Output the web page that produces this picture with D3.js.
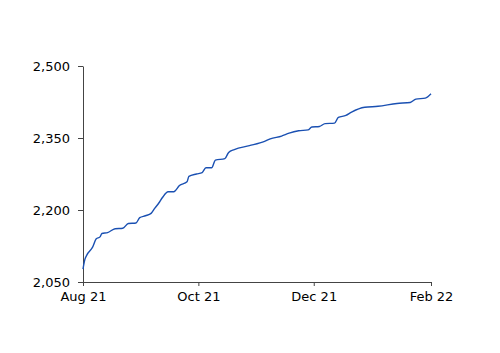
<!DOCTYPE html>
<html lang="en">
<head>
    <meta charset="UTF-8">
    <title>Cumulative line</title>
    <style>
        html, body { margin: 0; padding: 0; background: #fff; }
        text { font-family: "DejaVu Sans", Verdana, sans-serif; font-size: 13px; fill: #000; }
        .domain, .tick line { stroke: #444; }
    </style>
</head>
<body>
    <div id="wrapper"></div>
    <script src="https://cdn.jsdelivr.net/npm/d3@7"></script>
    <script>
        // data
        const dates = ['2021-08-01', '2021-08-02', '2021-08-03', '2021-08-06', '2021-08-08', '2021-08-10',
            '2021-08-11', '2021-08-14', '2021-08-18', '2021-08-22', '2021-08-25', '2021-08-29', '2021-08-31',
            '2021-09-03', '2021-09-06', '2021-09-08', '2021-09-10', '2021-09-12', '2021-09-15', '2021-09-18',
            '2021-09-21', '2021-09-25', '2021-09-26', '2021-09-30', '2021-10-03', '2021-10-05', '2021-10-08',
            '2021-10-10', '2021-10-15', '2021-10-17', '2021-10-20', '2021-10-28', '2021-11-05', '2021-11-08',
            '2021-11-14', '2021-11-18', '2021-11-23', '2021-11-28', '2021-11-30', '2021-12-04', '2021-12-07',
            '2021-12-12', '2021-12-14', '2021-12-18', '2021-12-21', '2021-12-28', '2022-01-04', '2022-01-14',
            '2022-01-21', '2022-01-24', '2022-01-29', '2022-02-01'];
        const values = [2077, 2097, 2106, 2122, 2140, 2144,
            2151, 2153, 2161, 2162, 2172, 2173, 2184,
            2188, 2193, 2204, 2214, 2226, 2238, 2238,
            2251, 2259, 2270, 2275, 2278, 2288, 2288,
            2304, 2307, 2320, 2326, 2334, 2343, 2348,
            2354, 2360, 2365, 2367, 2373, 2374, 2380,
            2381, 2393, 2397, 2404, 2414, 2416, 2422,
            2424, 2431, 2433, 2442];
        const yTicks = [2050, 2200, 2350, 2500];
        const xTicks = ['2021-08-01', '2021-10-01', '2021-12-01', '2022-02-01'];

        const width = 500, height = 353;
        const margin = { top: 66, right: 69, bottom: 71, left: 83 };

        const parseDate = d3.timeParse('%Y-%m-%d');
        const data = dates.map((d, i) => ({ date: parseDate(d), value: values[i] }));

        const svg = d3.select('#wrapper').append('svg')
            .attr('width', width)
            .attr('height', height);

        const x = d3.scaleTime()
            .domain([parseDate(xTicks[0]), parseDate(xTicks[xTicks.length - 1])])
            .range([margin.left, width - margin.right]);

        const y = d3.scaleLinear()
            .domain([2050, 2500])
            .range([height - margin.bottom, margin.top]);

        // x axis
        svg.append('g')
            .attr('transform', `translate(0,${height - margin.bottom})`)
            .call(d3.axisBottom(x)
                .tickValues(xTicks.map(parseDate))
                .tickFormat(d3.timeFormat('%b %y'))
                .tickSizeInner(4)
                .tickSizeOuter(0)
                .tickPadding(6));

        // y axis
        svg.append('g')
            .attr('transform', `translate(${margin.left},0)`)
            .call(d3.axisLeft(y)
                .tickValues(yTicks)
                .tickFormat(d3.format(','))
                .tickSizeInner(5)
                .tickSizeOuter(0)
                .tickPadding(8));

        // line
        const line = d3.line()
            .x(d => x(d.date))
            .y(d => y(d.value))
            .curve(d3.curveMonotoneX);

        svg.append('path')
            .datum(data)
            .attr('d', line)
            .attr('fill', 'none')
            .attr('stroke', '#1a50b2')
            .attr('stroke-width', 1.4);
    </script>
</body>
</html>
